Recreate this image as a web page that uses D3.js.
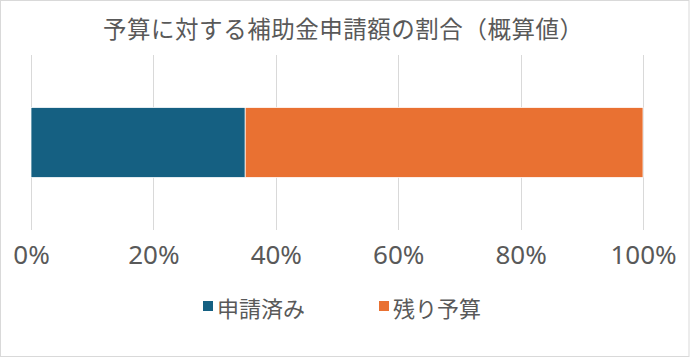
<!DOCTYPE html>
<html><head><meta charset="utf-8">
<script src="https://cdn.jsdelivr.net/npm/d3@7"></script>
<style>html,body{margin:0;padding:0;background:#fff;}svg{display:block;}</style>
</head><body>
<svg id="chart" width="690" height="358"></svg>
<script>
const title = "予算に対する補助金申請額の割合（概算値）";
const categories = ["予算"];
const seriesNames = ["申請済み", "残り予算"];
const appliedValues = [0.35];
const remainingValues = [0.65];
const tickValues = [0, 0.2, 0.4, 0.6, 0.8, 1.0];
const colors = ["#156082", "#E97132"];

const svg = d3.select("#chart");
const W = 690, H = 358;
const fontJP = "'Noto Sans CJK JP','Noto Sans',sans-serif";
const fontNum = "'Noto Sans','Open Sans',sans-serif";

svg.append("rect").attr("x", 0.5).attr("y", 0.5).attr("width", W - 1.5).attr("height", H - 2)
  .attr("fill", "#fff").attr("stroke", "#D9D9D9").attr("stroke-width", 1);

svg.append("text").attr("x", 343).attr("y", 28)
  .attr("text-anchor", "middle").attr("dominant-baseline", "central")
  .attr("font-family", fontJP).attr("font-size", 23.5).attr("fill", "#595959")
  .attr("textLength", 480).attr("lengthAdjust", "spacing")
  .text(title);

const x = d3.scaleLinear().domain([0, 1]).range([31, 643]);
const y = d3.scaleBand().domain(categories).range([55, 230]).paddingInner(0.6).paddingOuter(0.3);

// gridlines
svg.append("g").selectAll("line").data(tickValues).join("line")
  .attr("x1", d => Math.round(x(d)) + 0.5).attr("x2", d => Math.round(x(d)) + 0.5)
  .attr("y1", 55).attr("y2", 230)
  .attr("stroke", "#D9D9D9").attr("stroke-width", 1);

// stacked bars
const rows = categories.map((c, i) => ({cat: c, "申請済み": appliedValues[i], "残り予算": remainingValues[i]}));
const stack = d3.stack().keys(seriesNames)(rows);
svg.append("g").selectAll("g").data(stack).join("g")
  .attr("fill", (d, i) => colors[i])
  .selectAll("rect").data(d => d).join("rect")
  .attr("x", d => x(d[0])).attr("width", d => x(d[1]) - x(d[0]))
  .attr("y", d => y(d.data.cat)).attr("height", y.bandwidth())
  .attr("stroke", "#fff").attr("stroke-width", 0.75);

// axis labels
const axis = d3.axisBottom(x).tickValues(tickValues).tickFormat(d3.format(".0%")).tickSize(0).tickPadding(0);
const ag = svg.append("g").attr("transform", "translate(0,254)").call(axis);
ag.select(".domain").remove();
ag.selectAll("text").attr("dy", null).attr("dominant-baseline", "central")
  .attr("font-family", fontNum).attr("font-size", 26).attr("fill", "#595959");

// legend
const legendX = [203, 379];
const lg = svg.append("g").selectAll("g").data(seriesNames).join("g")
  .attr("transform", (d, i) => `translate(${legendX[i]},301)`);
lg.append("rect").attr("width", 10).attr("height", 10).attr("fill", (d, i) => colors[i]);
lg.append("text").attr("x", 14).attr("y", 6).attr("dominant-baseline", "central")
  .attr("font-family", fontJP).attr("font-size", 22).attr("fill", "#595959")
  .text(d => d);
</script>
</body></html>
